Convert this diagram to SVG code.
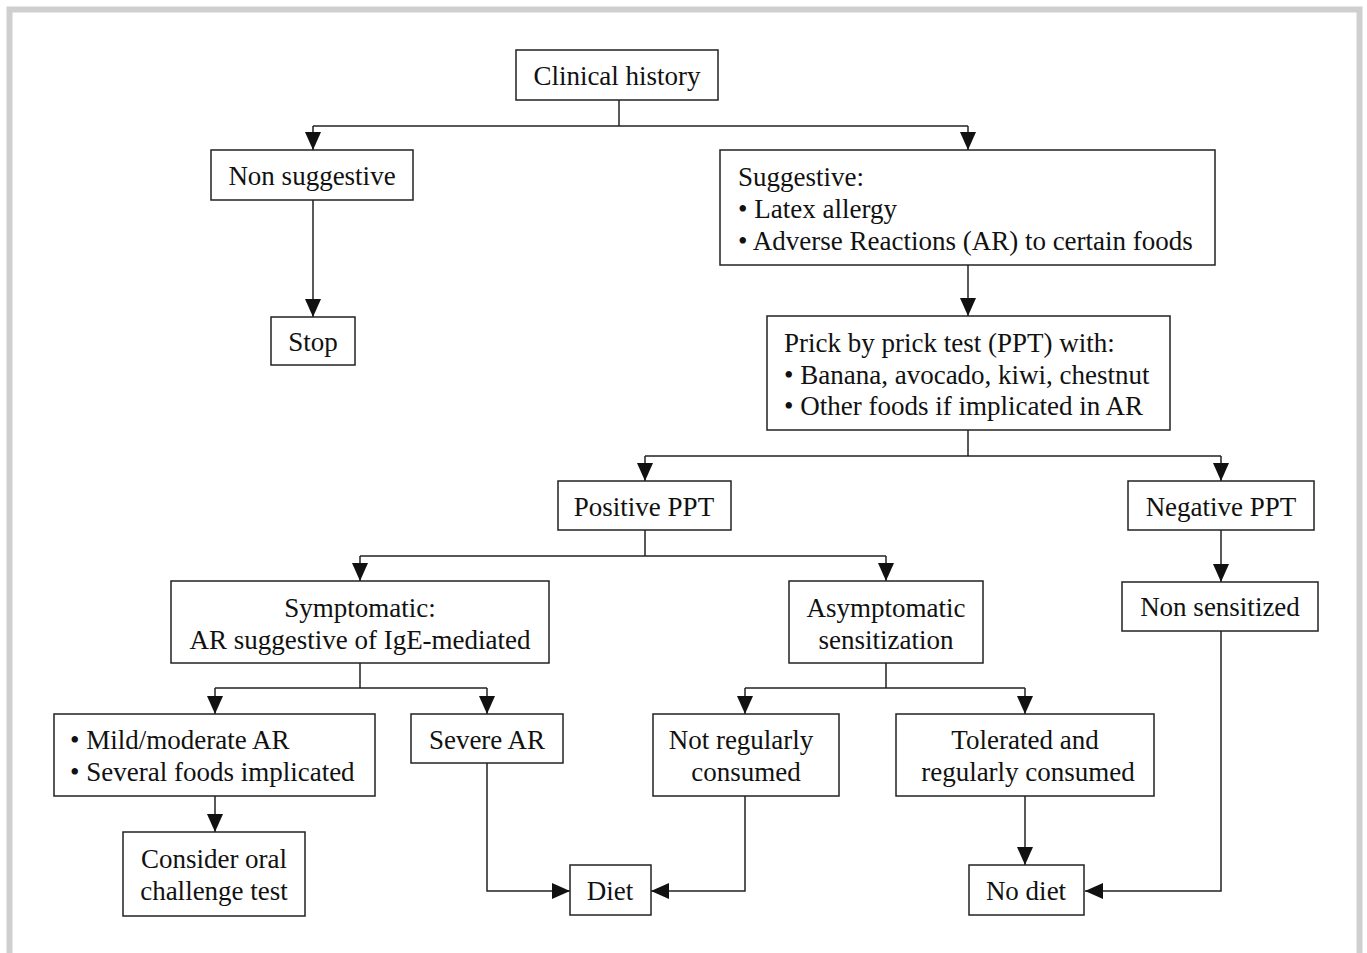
<svg xmlns="http://www.w3.org/2000/svg" width="1367" height="953" viewBox="0 0 1367 953">
<style>
.box{fill:#fff;stroke:#222;stroke-width:1.5}
.ln{fill:none;stroke:#222;stroke-width:1.5}
text{font-family:"Liberation Serif","Times New Roman",serif;font-size:27px;fill:#111}
.c{text-anchor:middle}
</style>
<defs>
<marker id="ah" viewBox="0 0 18 16" refX="18" refY="8" markerWidth="18" markerHeight="16" markerUnits="userSpaceOnUse" orient="auto">
<path d="M0,0 L18,8 L0,16 Z" fill="#111"/>
</marker>
</defs>
<rect width="1367" height="953" fill="#fff"/>
<path d="M9.5,960 V9.5 H1359.5 V960" fill="none" stroke="#cfcfcf" stroke-width="6"/>
<g id="connectors">
<path class="ln" d="M619,100 V126"/>
<path class="ln" d="M313,126 H968"/>
<path class="ln" d="M313,126 V150" marker-end="url(#ah)"/>
<path class="ln" d="M968,126 V150" marker-end="url(#ah)"/>
<path class="ln" d="M313,200 V317" marker-end="url(#ah)"/>
<path class="ln" d="M968,265 V316" marker-end="url(#ah)"/>
<path class="ln" d="M968,430 V456 M645,456 H1221"/>
<path class="ln" d="M645,456 V481" marker-end="url(#ah)"/>
<path class="ln" d="M1221,456 V481" marker-end="url(#ah)"/>
<path class="ln" d="M645,530 V556 M360,556 H886"/>
<path class="ln" d="M360,556 V581" marker-end="url(#ah)"/>
<path class="ln" d="M886,556 V581" marker-end="url(#ah)"/>
<path class="ln" d="M1221,530 V582" marker-end="url(#ah)"/>
<path class="ln" d="M1221,631 V891 H1085" marker-end="url(#ah)"/>
<path class="ln" d="M360,663 V688 M215,688 H487"/>
<path class="ln" d="M215,688 V714" marker-end="url(#ah)"/>
<path class="ln" d="M487,688 V714" marker-end="url(#ah)"/>
<path class="ln" d="M215,796 V832" marker-end="url(#ah)"/>
<path class="ln" d="M487,763 V891 H570" marker-end="url(#ah)"/>
<path class="ln" d="M886,663 V688 M745,688 H1025"/>
<path class="ln" d="M745,688 V714" marker-end="url(#ah)"/>
<path class="ln" d="M1025,688 V714" marker-end="url(#ah)"/>
<path class="ln" d="M745,796 V891 H651" marker-end="url(#ah)"/>
<path class="ln" d="M1025,796 V865" marker-end="url(#ah)"/>
</g>
<g id="clinical-history"><rect class="box" x="516" y="50" width="202" height="50"/><text class="c" x="617" y="85">Clinical history</text></g>
<g id="non-suggestive"><rect class="box" x="211" y="150" width="202" height="50"/><text class="c" x="312" y="185">Non suggestive</text></g>
<g id="stop"><rect class="box" x="271" y="317" width="84" height="48"/><text class="c" x="313" y="351">Stop</text></g>
<g id="suggestive"><rect class="box" x="720" y="150" width="495" height="115"/>
<text x="738" y="186">Suggestive:</text>
<text x="738" y="218">• Latex allergy</text>
<text x="738" y="250">• Adverse Reactions (AR) to certain foods</text></g>
<g id="ppt"><rect class="box" x="767" y="316" width="403" height="114"/>
<text x="784" y="352">Prick by prick test (PPT) with:</text>
<text x="784" y="384">• Banana, avocado, kiwi, chestnut</text>
<text x="784" y="415">• Other foods if implicated in AR</text></g>
<g id="positive-ppt"><rect class="box" x="558" y="481" width="173" height="49"/><text class="c" x="644" y="516">Positive PPT</text></g>
<g id="negative-ppt"><rect class="box" x="1128" y="481" width="186" height="49"/><text class="c" x="1221" y="516">Negative PPT</text></g>
<g id="symptomatic"><rect class="box" x="171" y="581" width="378" height="82"/>
<text class="c" x="360" y="617">Symptomatic:</text>
<text class="c" x="360" y="649">AR suggestive of IgE-mediated</text></g>
<g id="asymptomatic"><rect class="box" x="789" y="581" width="194" height="82"/>
<text class="c" x="886" y="617">Asymptomatic</text>
<text class="c" x="886" y="649">sensitization</text></g>
<g id="non-sensitized"><rect class="box" x="1122" y="582" width="196" height="49"/><text class="c" x="1220" y="616">Non sensitized</text></g>
<g id="mild"><rect class="box" x="54" y="714" width="321" height="82"/>
<text x="70" y="749">• Mild/moderate AR</text>
<text x="70" y="781">• Several foods implicated</text></g>
<g id="severe"><rect class="box" x="411" y="714" width="152" height="49"/><text class="c" x="487" y="749">Severe AR</text></g>
<g id="not-regularly"><rect class="box" x="653" y="714" width="186" height="82"/>
<text class="c" x="741" y="749">Not regularly</text>
<text class="c" x="746" y="781">consumed</text></g>
<g id="tolerated"><rect class="box" x="896" y="714" width="258" height="82"/>
<text class="c" x="1025" y="749">Tolerated and</text>
<text class="c" x="1028" y="781">regularly consumed</text></g>
<g id="consider"><rect class="box" x="123" y="832" width="182" height="84"/>
<text class="c" x="214" y="868">Consider oral</text>
<text class="c" x="214" y="900">challenge test</text></g>
<g id="diet"><rect class="box" x="570" y="865" width="81" height="50"/><text class="c" x="610" y="900">Diet</text></g>
<g id="no-diet"><rect class="box" x="969" y="865" width="115" height="50"/><text class="c" x="1026" y="900">No diet</text></g>
</svg>
